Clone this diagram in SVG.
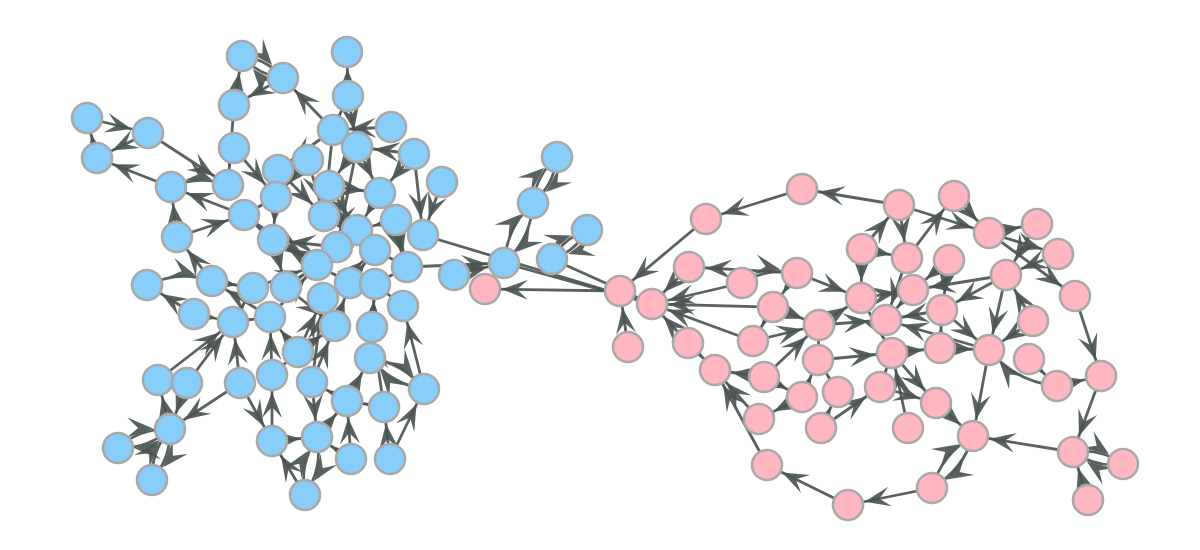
<svg xmlns="http://www.w3.org/2000/svg" width="1200" height="550" viewBox="0 0 1200 550">
<style>
.e{stroke:#4b5454;stroke-width:2.8;fill:none;stroke-opacity:0.92;marker-end:url(#ah)}
.b{fill:#87cefa;stroke:#a9a9a9;stroke-width:2.6}
.p{fill:#ffb6c1;stroke:#a9a9a9;stroke-width:2.6}
</style>
<defs>
<marker id="ah" markerUnits="userSpaceOnUse" viewBox="0 -12 48 24" refX="43" refY="0" markerWidth="48" markerHeight="24" orient="auto">
<path d="M26,0 L0,-10 L11,0 L0,10 Z" fill="#4b5454" fill-opacity="0.92"/>
</marker>
</defs>
<rect width="1200" height="550" fill="#ffffff"/>
<g id="edges">
<line class="e" x1="87" y1="118" x2="148" y2="133"/>
<line class="e" x1="97" y1="158" x2="87" y2="118"/>
<line class="e" x1="148" y1="133" x2="97" y2="158"/>
<line class="e" x1="148" y1="133" x2="228" y2="185"/>
<line class="e" x1="171" y1="187" x2="97" y2="158"/>
<line class="e" x1="244" y1="215" x2="171" y2="187"/>
<path class="e" d="M171,187 Q199,175 228,185"/>
<line class="e" x1="234" y1="105" x2="242" y2="56"/>
<path class="e" d="M242,56 Q267,59 283,78"/>
<path class="e" d="M283,78 Q258,75 242,56"/>
<line class="e" x1="283" y1="78" x2="234" y2="105"/>
<line class="e" x1="234" y1="105" x2="228" y2="185"/>
<line class="e" x1="234" y1="148" x2="276" y2="197"/>
<line class="e" x1="333" y1="130" x2="283" y2="78"/>
<line class="e" x1="348" y1="96" x2="347" y2="52"/>
<line class="e" x1="333" y1="130" x2="348" y2="96"/>
<line class="e" x1="391" y1="127" x2="333" y2="130"/>
<line class="e" x1="414" y1="154" x2="357" y2="147"/>
<line class="e" x1="414" y1="154" x2="423" y2="235"/>
<line class="e" x1="442" y1="182" x2="423" y2="235"/>
<line class="e" x1="357" y1="147" x2="337" y2="247"/>
<line class="e" x1="333" y1="130" x2="324" y2="216"/>
<line class="e" x1="308" y1="160" x2="324" y2="216"/>
<line class="e" x1="329" y1="186" x2="357" y2="230"/>
<line class="e" x1="276" y1="197" x2="273" y2="240"/>
<line class="e" x1="380" y1="193" x2="407" y2="267"/>
<line class="e" x1="380" y1="193" x2="357" y2="230"/>
<line class="e" x1="177" y1="237" x2="244" y2="215"/>
<line class="e" x1="177" y1="237" x2="171" y2="187"/>
<line class="e" x1="212" y1="281" x2="177" y2="237"/>
<path class="e" d="M147,285 Q179,270 212,281"/>
<line class="e" x1="194" y1="314" x2="147" y2="285"/>
<line class="e" x1="212" y1="281" x2="253" y2="288"/>
<line class="e" x1="286" y1="287" x2="317" y2="265"/>
<line class="e" x1="317" y1="265" x2="273" y2="240"/>
<line class="e" x1="273" y1="240" x2="244" y2="215"/>
<line class="e" x1="233" y1="322" x2="253" y2="288"/>
<line class="e" x1="270" y1="317" x2="212" y2="281"/>
<line class="e" x1="270" y1="317" x2="317" y2="265"/>
<line class="e" x1="335" y1="326" x2="350" y2="283"/>
<line class="e" x1="323" y1="298" x2="375" y2="250"/>
<line class="e" x1="350" y1="283" x2="375" y2="250"/>
<line class="e" x1="375" y1="250" x2="324" y2="216"/>
<line class="e" x1="337" y1="247" x2="273" y2="240"/>
<line class="e" x1="407" y1="267" x2="375" y2="250"/>
<line class="e" x1="407" y1="267" x2="504" y2="263"/>
<line class="e" x1="454" y1="275" x2="504" y2="263"/>
<line class="e" x1="423" y1="235" x2="652" y2="304"/>
<line class="e" x1="552" y1="259" x2="652" y2="304"/>
<line class="e" x1="504" y1="263" x2="652" y2="304"/>
<line class="e" x1="396" y1="220" x2="407" y2="267"/>
<line class="e" x1="375" y1="284" x2="407" y2="267"/>
<line class="e" x1="372" y1="327" x2="375" y2="284"/>
<line class="e" x1="403" y1="306" x2="375" y2="284"/>
<line class="e" x1="370" y1="358" x2="375" y2="284"/>
<line class="e" x1="298" y1="352" x2="270" y2="317"/>
<line class="e" x1="298" y1="352" x2="323" y2="298"/>
<line class="e" x1="272" y1="375" x2="298" y2="352"/>
<line class="e" x1="312" y1="382" x2="323" y2="298"/>
<path class="e" d="M370,358 Q403,363 424,389"/>
<path class="e" d="M424,389 Q391,384 370,358"/>
<line class="e" x1="347" y1="401" x2="370" y2="358"/>
<line class="e" x1="384" y1="407" x2="347" y2="401"/>
<line class="e" x1="390" y1="459" x2="384" y2="407"/>
<line class="e" x1="351" y1="459" x2="347" y2="401"/>
<line class="e" x1="317" y1="437" x2="347" y2="401"/>
<line class="e" x1="305" y1="495" x2="272" y2="441"/>
<path class="e" d="M317,437 Q323,468 305,495"/>
<path class="e" d="M305,495 Q299,464 317,437"/>
<line class="e" x1="272" y1="441" x2="272" y2="375"/>
<line class="e" x1="240" y1="383" x2="170" y2="429"/>
<line class="e" x1="158" y1="380" x2="233" y2="322"/>
<line class="e" x1="187" y1="383" x2="233" y2="322"/>
<line class="e" x1="187" y1="383" x2="170" y2="429"/>
<line class="e" x1="170" y1="429" x2="158" y2="380"/>
<path class="e" d="M118,448 Q140,428 170,429"/>
<path class="e" d="M170,429 Q148,449 118,448"/>
<path class="e" d="M152,480 Q151,451 170,429"/>
<path class="e" d="M170,429 Q171,458 152,480"/>
<line class="e" x1="240" y1="383" x2="233" y2="322"/>
<line class="e" x1="272" y1="375" x2="270" y2="317"/>
<line class="e" x1="312" y1="382" x2="335" y2="326"/>
<line class="e" x1="240" y1="383" x2="272" y2="441"/>
<line class="e" x1="272" y1="441" x2="317" y2="437"/>
<path class="e" d="M557,157 Q554,185 533,203"/>
<path class="e" d="M533,203 Q536,175 557,157"/>
<path class="e" d="M533,203 Q531,239 504,263"/>
<path class="e" d="M504,263 Q507,227 533,203"/>
<path class="e" d="M587,230 Q575,252 552,259"/>
<path class="e" d="M552,259 Q564,238 587,230"/>
<line class="e" x1="329" y1="186" x2="380" y2="193"/>
<line class="e" x1="414" y1="154" x2="380" y2="193"/>
<line class="e" x1="357" y1="147" x2="329" y2="186"/>
<line class="e" x1="278" y1="170" x2="324" y2="216"/>
<line class="e" x1="244" y1="215" x2="317" y2="265"/>
<line class="e" x1="253" y1="288" x2="317" y2="265"/>
<line class="e" x1="286" y1="287" x2="335" y2="326"/>
<line class="e" x1="233" y1="322" x2="270" y2="317"/>
<line class="e" x1="194" y1="314" x2="233" y2="322"/>
<line class="e" x1="298" y1="352" x2="335" y2="326"/>
<line class="e" x1="347" y1="401" x2="312" y2="382"/>
<line class="e" x1="384" y1="407" x2="372" y2="327"/>
<line class="e" x1="424" y1="389" x2="403" y2="306"/>
<line class="e" x1="390" y1="459" x2="424" y2="389"/>
<line class="e" x1="351" y1="459" x2="317" y2="437"/>
<line class="e" x1="312" y1="382" x2="317" y2="437"/>
<line class="e" x1="350" y1="283" x2="317" y2="265"/>
<line class="e" x1="357" y1="230" x2="324" y2="216"/>
<line class="e" x1="396" y1="220" x2="357" y2="230"/>
<line class="e" x1="273" y1="240" x2="286" y2="287"/>
<line class="e" x1="276" y1="197" x2="244" y2="215"/>
<line class="e" x1="348" y1="96" x2="357" y2="147"/>
<line class="e" x1="333" y1="130" x2="278" y2="170"/>
<line class="e" x1="357" y1="147" x2="380" y2="193"/>
<line class="e" x1="308" y1="160" x2="276" y2="197"/>
<line class="e" x1="802" y1="189" x2="706" y2="219"/>
<line class="e" x1="706" y1="219" x2="620" y2="291"/>
<line class="e" x1="899" y1="205" x2="802" y2="189"/>
<line class="e" x1="620" y1="291" x2="485" y2="289"/>
<line class="e" x1="628" y1="347" x2="620" y2="291"/>
<line class="e" x1="688" y1="343" x2="652" y2="304"/>
<line class="e" x1="689" y1="267" x2="652" y2="304"/>
<line class="e" x1="742" y1="283" x2="652" y2="304"/>
<line class="e" x1="773" y1="307" x2="652" y2="304"/>
<line class="e" x1="753" y1="341" x2="652" y2="304"/>
<line class="e" x1="797" y1="273" x2="689" y2="267"/>
<path class="e" d="M742,283 Q768,267 797,273"/>
<line class="e" x1="797" y1="273" x2="773" y2="307"/>
<line class="e" x1="797" y1="273" x2="861" y2="298"/>
<line class="e" x1="753" y1="341" x2="819" y2="325"/>
<line class="e" x1="764" y1="377" x2="819" y2="325"/>
<line class="e" x1="764" y1="377" x2="715" y2="370"/>
<line class="e" x1="759" y1="419" x2="715" y2="370"/>
<line class="e" x1="767" y1="465" x2="715" y2="370"/>
<line class="e" x1="848" y1="505" x2="767" y2="465"/>
<line class="e" x1="932" y1="488" x2="848" y2="505"/>
<path class="e" d="M973,436 Q963,470 932,488"/>
<path class="e" d="M932,488 Q942,454 973,436"/>
<line class="e" x1="1073" y1="452" x2="973" y2="436"/>
<line class="e" x1="1101" y1="376" x2="1073" y2="452"/>
<line class="e" x1="1075" y1="296" x2="1101" y2="376"/>
<line class="e" x1="989" y1="233" x2="1075" y2="296"/>
<line class="e" x1="989" y1="350" x2="973" y2="436"/>
<line class="e" x1="1006" y1="275" x2="989" y2="350"/>
<line class="e" x1="936" y1="403" x2="973" y2="436"/>
<line class="e" x1="1057" y1="386" x2="1101" y2="376"/>
<line class="e" x1="1029" y1="359" x2="1057" y2="386"/>
<path class="e" d="M1057,386 Q1016,382 989,350"/>
<path class="e" d="M1073,452 Q1100,448 1123,464"/>
<path class="e" d="M1123,464 Q1096,468 1073,452"/>
<line class="e" x1="1088" y1="500" x2="1073" y2="452"/>
<line class="e" x1="954" y1="196" x2="989" y2="233"/>
<line class="e" x1="899" y1="205" x2="989" y2="233"/>
<line class="e" x1="1058" y1="254" x2="1006" y2="275"/>
<line class="e" x1="1037" y1="224" x2="1006" y2="275"/>
<line class="e" x1="1006" y1="275" x2="913" y2="290"/>
<line class="e" x1="1006" y1="275" x2="942" y2="310"/>
<line class="e" x1="862" y1="249" x2="899" y2="205"/>
<line class="e" x1="899" y1="205" x2="907" y2="258"/>
<line class="e" x1="907" y1="258" x2="954" y2="196"/>
<line class="e" x1="862" y1="249" x2="861" y2="298"/>
<line class="e" x1="907" y1="258" x2="886" y2="320"/>
<line class="e" x1="949" y1="260" x2="913" y2="290"/>
<line class="e" x1="773" y1="307" x2="819" y2="325"/>
<line class="e" x1="861" y1="298" x2="892" y2="353"/>
<line class="e" x1="942" y1="310" x2="886" y2="320"/>
<line class="e" x1="989" y1="350" x2="886" y2="320"/>
<line class="e" x1="942" y1="310" x2="989" y2="350"/>
<line class="e" x1="1033" y1="321" x2="1006" y2="275"/>
<line class="e" x1="1033" y1="321" x2="989" y2="350"/>
<line class="e" x1="892" y1="353" x2="940" y2="348"/>
<line class="e" x1="940" y1="348" x2="942" y2="310"/>
<line class="e" x1="818" y1="360" x2="819" y2="325"/>
<line class="e" x1="802" y1="397" x2="818" y2="360"/>
<line class="e" x1="838" y1="392" x2="818" y2="360"/>
<line class="e" x1="880" y1="387" x2="892" y2="353"/>
<line class="e" x1="821" y1="428" x2="838" y2="392"/>
<line class="e" x1="908" y1="428" x2="892" y2="353"/>
<line class="e" x1="892" y1="353" x2="936" y2="403"/>
<line class="e" x1="821" y1="428" x2="880" y2="387"/>
<line class="e" x1="802" y1="397" x2="759" y2="419"/>
<line class="e" x1="764" y1="377" x2="802" y2="397"/>
<line class="e" x1="819" y1="325" x2="886" y2="320"/>
<line class="e" x1="913" y1="290" x2="886" y2="320"/>
<line class="e" x1="989" y1="233" x2="1058" y2="254"/>
<line class="e" x1="989" y1="233" x2="1037" y2="224"/>
<line class="e" x1="940" y1="348" x2="989" y2="350"/>
<line class="e" x1="819" y1="325" x2="861" y2="298"/>
<line class="e" x1="818" y1="360" x2="892" y2="353"/>
<line class="e" x1="880" y1="387" x2="936" y2="403"/>
<line class="e" x1="773" y1="307" x2="753" y2="341"/>
<line class="e" x1="688" y1="343" x2="715" y2="370"/>
<line class="e" x1="861" y1="298" x2="913" y2="290"/>
<line class="e" x1="862" y1="249" x2="907" y2="258"/>
<line class="e" x1="949" y1="260" x2="942" y2="310"/>
</g>
<g id="blue-nodes">
<g id="b1"><circle class="b" cx="242" cy="56" r="15"/></g>
<g id="b2"><circle class="b" cx="283" cy="78" r="15"/></g>
<g id="b3"><circle class="b" cx="347" cy="52" r="15"/></g>
<g id="b4"><circle class="b" cx="234" cy="105" r="15"/></g>
<g id="b5"><circle class="b" cx="348" cy="96" r="15"/></g>
<g id="b6"><circle class="b" cx="87" cy="118" r="15"/></g>
<g id="b7"><circle class="b" cx="148" cy="133" r="15"/></g>
<g id="b8"><circle class="b" cx="97" cy="158" r="15"/></g>
<g id="b9"><circle class="b" cx="234" cy="148" r="15"/></g>
<g id="b10"><circle class="b" cx="333" cy="130" r="15"/></g>
<g id="b11"><circle class="b" cx="391" cy="127" r="15"/></g>
<g id="b12"><circle class="b" cx="357" cy="147" r="15"/></g>
<g id="b13"><circle class="b" cx="414" cy="154" r="15"/></g>
<g id="b14"><circle class="b" cx="308" cy="160" r="15"/></g>
<g id="b15"><circle class="b" cx="278" cy="170" r="15"/></g>
<g id="b16"><circle class="b" cx="171" cy="187" r="15"/></g>
<g id="b17"><circle class="b" cx="228" cy="185" r="15"/></g>
<g id="b18"><circle class="b" cx="329" cy="186" r="15"/></g>
<g id="b19"><circle class="b" cx="442" cy="182" r="15"/></g>
<g id="b20"><circle class="b" cx="276" cy="197" r="15"/></g>
<g id="b21"><circle class="b" cx="380" cy="193" r="15"/></g>
<g id="b22"><circle class="b" cx="557" cy="157" r="15"/></g>
<g id="b23"><circle class="b" cx="533" cy="203" r="15"/></g>
<g id="b24"><circle class="b" cx="244" cy="215" r="15"/></g>
<g id="b25"><circle class="b" cx="324" cy="216" r="15"/></g>
<g id="b26"><circle class="b" cx="396" cy="220" r="15"/></g>
<g id="b27"><circle class="b" cx="587" cy="230" r="15"/></g>
<g id="b28"><circle class="b" cx="177" cy="237" r="15"/></g>
<g id="b29"><circle class="b" cx="273" cy="240" r="15"/></g>
<g id="b30"><circle class="b" cx="357" cy="230" r="15"/></g>
<g id="b31"><circle class="b" cx="423" cy="235" r="15"/></g>
<g id="b32"><circle class="b" cx="337" cy="247" r="15"/></g>
<g id="b33"><circle class="b" cx="375" cy="250" r="15"/></g>
<g id="b34"><circle class="b" cx="552" cy="259" r="15"/></g>
<g id="b35"><circle class="b" cx="504" cy="263" r="15"/></g>
<g id="b36"><circle class="b" cx="317" cy="265" r="15"/></g>
<g id="b37"><circle class="b" cx="407" cy="267" r="15"/></g>
<g id="b38"><circle class="b" cx="454" cy="275" r="15"/></g>
<g id="b39"><circle class="b" cx="147" cy="285" r="15"/></g>
<g id="b40"><circle class="b" cx="212" cy="281" r="15"/></g>
<g id="b41"><circle class="b" cx="253" cy="288" r="15"/></g>
<g id="b42"><circle class="b" cx="286" cy="287" r="15"/></g>
<g id="b43"><circle class="b" cx="350" cy="283" r="15"/></g>
<g id="b44"><circle class="b" cx="375" cy="284" r="15"/></g>
<g id="b45"><circle class="b" cx="323" cy="298" r="15"/></g>
<g id="b46"><circle class="b" cx="403" cy="306" r="15"/></g>
<g id="b47"><circle class="b" cx="194" cy="314" r="15"/></g>
<g id="b48"><circle class="b" cx="233" cy="322" r="15"/></g>
<g id="b49"><circle class="b" cx="270" cy="317" r="15"/></g>
<g id="b50"><circle class="b" cx="335" cy="326" r="15"/></g>
<g id="b51"><circle class="b" cx="372" cy="327" r="15"/></g>
<g id="b52"><circle class="b" cx="298" cy="352" r="15"/></g>
<g id="b53"><circle class="b" cx="370" cy="358" r="15"/></g>
<g id="b54"><circle class="b" cx="158" cy="380" r="15"/></g>
<g id="b55"><circle class="b" cx="187" cy="383" r="15"/></g>
<g id="b56"><circle class="b" cx="240" cy="383" r="15"/></g>
<g id="b57"><circle class="b" cx="272" cy="375" r="15"/></g>
<g id="b58"><circle class="b" cx="312" cy="382" r="15"/></g>
<g id="b59"><circle class="b" cx="424" cy="389" r="15"/></g>
<g id="b60"><circle class="b" cx="347" cy="401" r="15"/></g>
<g id="b61"><circle class="b" cx="384" cy="407" r="15"/></g>
<g id="b62"><circle class="b" cx="170" cy="429" r="15"/></g>
<g id="b63"><circle class="b" cx="272" cy="441" r="15"/></g>
<g id="b64"><circle class="b" cx="317" cy="437" r="15"/></g>
<g id="b65"><circle class="b" cx="118" cy="448" r="15"/></g>
<g id="b66"><circle class="b" cx="152" cy="480" r="15"/></g>
<g id="b67"><circle class="b" cx="351" cy="459" r="15"/></g>
<g id="b68"><circle class="b" cx="390" cy="459" r="15"/></g>
<g id="b69"><circle class="b" cx="305" cy="495" r="15"/></g>
</g>
<g id="pink-nodes">
<g id="p1"><circle class="p" cx="485" cy="289" r="15"/></g>
<g id="p2"><circle class="p" cx="620" cy="291" r="15"/></g>
<g id="p3"><circle class="p" cx="652" cy="304" r="15"/></g>
<g id="p4"><circle class="p" cx="628" cy="347" r="15"/></g>
<g id="p5"><circle class="p" cx="706" cy="219" r="15"/></g>
<g id="p6"><circle class="p" cx="802" cy="189" r="15"/></g>
<g id="p7"><circle class="p" cx="689" cy="267" r="15"/></g>
<g id="p8"><circle class="p" cx="742" cy="283" r="15"/></g>
<g id="p9"><circle class="p" cx="797" cy="273" r="15"/></g>
<g id="p10"><circle class="p" cx="899" cy="205" r="15"/></g>
<g id="p11"><circle class="p" cx="954" cy="196" r="15"/></g>
<g id="p12"><circle class="p" cx="989" cy="233" r="15"/></g>
<g id="p13"><circle class="p" cx="1037" cy="224" r="15"/></g>
<g id="p14"><circle class="p" cx="1058" cy="254" r="15"/></g>
<g id="p15"><circle class="p" cx="862" cy="249" r="15"/></g>
<g id="p16"><circle class="p" cx="907" cy="258" r="15"/></g>
<g id="p17"><circle class="p" cx="949" cy="260" r="15"/></g>
<g id="p18"><circle class="p" cx="1006" cy="275" r="15"/></g>
<g id="p19"><circle class="p" cx="1075" cy="296" r="15"/></g>
<g id="p20"><circle class="p" cx="773" cy="307" r="15"/></g>
<g id="p21"><circle class="p" cx="861" cy="298" r="15"/></g>
<g id="p22"><circle class="p" cx="913" cy="290" r="15"/></g>
<g id="p23"><circle class="p" cx="942" cy="310" r="15"/></g>
<g id="p24"><circle class="p" cx="688" cy="343" r="15"/></g>
<g id="p25"><circle class="p" cx="753" cy="341" r="15"/></g>
<g id="p26"><circle class="p" cx="819" cy="325" r="15"/></g>
<g id="p27"><circle class="p" cx="886" cy="320" r="15"/></g>
<g id="p28"><circle class="p" cx="1033" cy="321" r="15"/></g>
<g id="p29"><circle class="p" cx="715" cy="370" r="15"/></g>
<g id="p30"><circle class="p" cx="764" cy="377" r="15"/></g>
<g id="p31"><circle class="p" cx="818" cy="360" r="15"/></g>
<g id="p32"><circle class="p" cx="892" cy="353" r="15"/></g>
<g id="p33"><circle class="p" cx="940" cy="348" r="15"/></g>
<g id="p34"><circle class="p" cx="989" cy="350" r="15"/></g>
<g id="p35"><circle class="p" cx="1029" cy="359" r="15"/></g>
<g id="p36"><circle class="p" cx="1101" cy="376" r="15"/></g>
<g id="p37"><circle class="p" cx="802" cy="397" r="15"/></g>
<g id="p38"><circle class="p" cx="838" cy="392" r="15"/></g>
<g id="p39"><circle class="p" cx="880" cy="387" r="15"/></g>
<g id="p40"><circle class="p" cx="1057" cy="386" r="15"/></g>
<g id="p41"><circle class="p" cx="759" cy="419" r="15"/></g>
<g id="p42"><circle class="p" cx="821" cy="428" r="15"/></g>
<g id="p43"><circle class="p" cx="936" cy="403" r="15"/></g>
<g id="p44"><circle class="p" cx="908" cy="428" r="15"/></g>
<g id="p45"><circle class="p" cx="973" cy="436" r="15"/></g>
<g id="p46"><circle class="p" cx="1073" cy="452" r="15"/></g>
<g id="p47"><circle class="p" cx="1123" cy="464" r="15"/></g>
<g id="p48"><circle class="p" cx="767" cy="465" r="15"/></g>
<g id="p49"><circle class="p" cx="932" cy="488" r="15"/></g>
<g id="p50"><circle class="p" cx="848" cy="505" r="15"/></g>
<g id="p51"><circle class="p" cx="1088" cy="500" r="15"/></g>
</g>
</svg>
